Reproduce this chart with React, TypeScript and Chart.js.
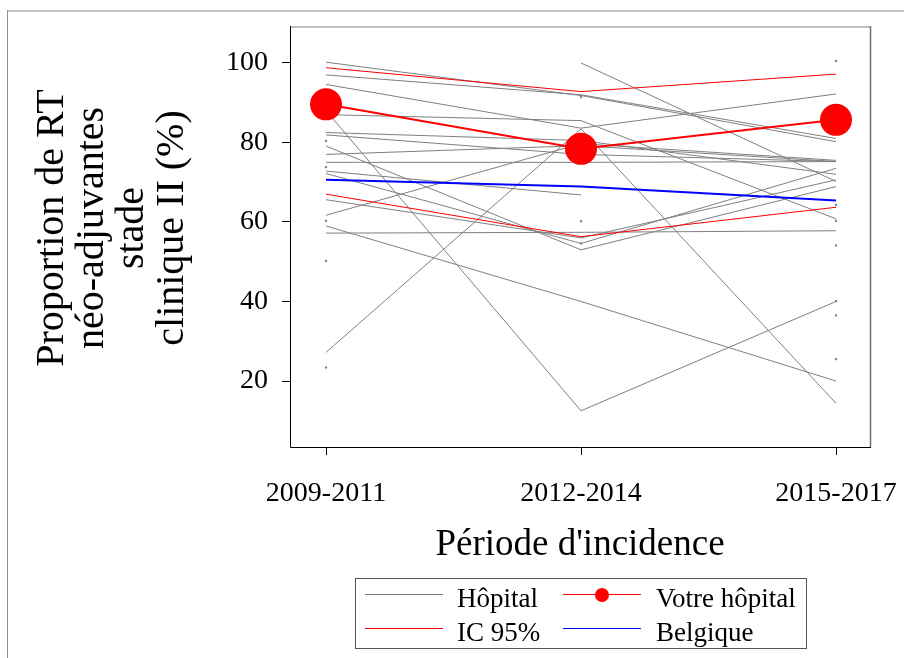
import React, { useEffect, useRef } from 'react';
import { Chart, registerables } from 'chart.js';

Chart.register(...registerables);

// ---------- data ----------
const periods = ['2009-2011', '2012-2014', '2015-2017'];
const yTicks = [20, 40, 60, 80, 100];

const votreHopital = [89.6, 78.4, 85.7];
const icHaut = [98.8, 92.8, 97.2];
const icBas = [67.0, 56.3, 63.7];
const belgique = [70.6, 68.9, 65.4];

const hopitaux: (number | null)[][] = [
  [27.2, 83.4, 14.4],
  [88.0, 12.5, 40.0],
  [59.0, 40.0, 20.0],
  [null, 100.0, 70.2],
  [57.2, 57.4, 57.8],
  [75.0, 75.0, 75.2],
  [72.8, 66.8, null],
  [100.2, 91.8, 80.2],
  [97.0, 92.0, 81.0],
  [94.6, 83.6, 92.2],
  [82.5, 80.5, 72.0],
  [81.9, 77.0, 75.2],
  [77.0, 79.2, 75.2],
  [61.7, 79.7, 75.5],
  [79.1, 53.0, 68.9],
  [72.2, 54.6, 73.5],
  [65.6, 56.0, 70.6],
  [87.0, 85.5, 60.8],
  [80.4, null, 100.5],
  [73.8, null, 64.3],
  [60.3, null, 54.1],
  [50.2, null, 36.5],
  [23.4, null, 25.5],
  [null, 91.4, null],
  [null, 60.2, null],
  [null, 54.6, null],
  [null, null, 60.3],
  [null, null, 40.1],
];

const xTitle = "Période d'incidence";
const yTitle = ['Proportion de RT', 'néo-adjuvantes', 'stade', 'clinique II (%)'];
const legendLabels = ['Hôpital', 'Votre hôpital', 'IC 95%', 'Belgique'];

// ---------- styles ----------
const FONT = '"Liberation Serif", "Times New Roman", Times, serif';
const GREY = '#808080';
const RED = '#ff0000';
const BLUE = '#0000ff';

const framePlugin = {
  id: 'frame',
  beforeDraw(chart: any) {
    const c = chart.ctx;
    c.save();
    c.fillStyle = '#fff';
    c.fillRect(0, 0, chart.width, chart.height);
    // outer frame
    c.strokeStyle = '#c8c8c8';
    c.lineWidth = 2;
    c.beginPath();
    c.moveTo(7, 11);
    c.lineTo(chart.width, 11);
    c.stroke();
    c.strokeStyle = '#909090';
    c.lineWidth = 1;
    c.beginPath();
    c.moveTo(7.5, 10);
    c.lineTo(7.5, chart.height);
    c.stroke();
    c.restore();
  },
  afterDraw(chart: any) {
    const c = chart.ctx;
    const a = chart.chartArea;
    c.save();
    c.lineWidth = 2;
    c.strokeStyle = '#c0c0c0';
    c.beginPath();
    c.moveTo(a.left, a.top + 1);
    c.lineTo(a.right, a.top + 1);
    c.stroke();
    c.lineWidth = 1.5;
    c.strokeStyle = '#707070';
    c.beginPath();
    c.moveTo(a.right + 0.5, a.top);
    c.lineTo(a.right + 0.5, a.bottom);
    c.stroke();
    c.lineWidth = 1;
    c.strokeStyle = '#000';
    c.beginPath();
    c.moveTo(a.left + 0.5, a.top);
    c.lineTo(a.left + 0.5, a.bottom + 0.5);
    c.lineTo(a.right + 1, a.bottom + 0.5);
    c.stroke();

    // y-axis title (multi-line, rotated)
    c.fillStyle = '#000';
    c.font = `40px ${FONT}`;
    c.textAlign = 'center';
    c.textBaseline = 'middle';
    const centerY = 228;
    yTitle.forEach((line, i) => {
      c.save();
      c.translate(52 + i * 40, centerY);
      c.rotate(-Math.PI / 2);
      c.fillText(line, 0, 0);
      c.restore();
    });
    c.restore();
  },
};

const legendPlugin = {
  id: 'boxLegend',
  afterDraw(chart: any) {
    const c = chart.ctx;
    c.save();
    c.strokeStyle = '#555';
    c.lineWidth = 1;
    c.strokeRect(355.5, 578.5, 451, 70);
    const colors = [GREY, RED, RED, BLUE];
    const rows = [594.5, 628.5];
    const lineX = [365, 563];
    const textX = [457, 656];
    c.font = `27px ${FONT}`;
    c.textBaseline = 'alphabetic';
    c.textAlign = 'left';
    legendLabels.forEach((lab, i) => {
      const col = i % 2;
      const row = Math.floor(i / 2);
      const y = rows[row];
      c.strokeStyle = colors[i];
      c.lineWidth = 1;
      c.beginPath();
      c.moveTo(lineX[col], y);
      c.lineTo(lineX[col] + 78, y);
      c.stroke();
      if (i === 1) {
        c.fillStyle = RED;
        c.beginPath();
        c.arc(lineX[col] + 39, y + 0.5, 7, 0, Math.PI * 2);
        c.fill();
      }
      c.fillStyle = '#000';
      c.fillText(lab, textX[col], y + 12.3);
    });
    c.restore();
  },
};

function toPts(arr: (number | null)[]) {
  return arr.map((v, i) => ({ x: i, y: v }));
}

export default function App() {
  const ref = useRef<HTMLCanvasElement>(null);

  useEffect(() => {
    const canvas = ref.current;
    if (!canvas) return;

    const hospSets = hopitaux.map((row) => ({
      label: 'Hôpital',
      data: toPts(row),
      borderColor: GREY,
      backgroundColor: GREY,
      borderWidth: 1,
      pointStyle: 'rect',
      pointRadius: (ctx: any) => {
        const i = ctx.dataIndex;
        const prev = i > 0 ? row[i - 1] : null;
        const next = i < row.length - 1 ? row[i + 1] : null;
        return row[i] != null && prev == null && next == null ? 1.5 : 0;
      },
      pointBorderWidth: 0,
      pointBackgroundColor: GREY,
      spanGaps: false,
      order: 4,
    }));

    const chart = new Chart(canvas, {
      type: 'line',
      data: {
        datasets: [
          ...hospSets,
          {
            label: 'IC 95% haut',
            data: toPts(icHaut),
            borderColor: RED,
            borderWidth: 1,
            pointRadius: 0,
            order: 3,
          },
          {
            label: 'IC 95% bas',
            data: toPts(icBas),
            borderColor: RED,
            borderWidth: 1,
            pointRadius: 0,
            order: 3,
          },
          {
            label: 'Belgique',
            data: toPts(belgique),
            borderColor: BLUE,
            borderWidth: 2,
            pointRadius: 0,
            order: 2,
          },
          {
            label: 'Votre hôpital',
            data: toPts(votreHopital),
            borderColor: RED,
            borderWidth: 2,
            pointRadius: 16,
            pointBackgroundColor: RED,
            pointBorderWidth: 0,
            order: 1,
          },
        ] as any,
      },
      options: {
        responsive: false,
        animation: false,
        events: [],
        layout: { padding: { left: 7, top: 26, right: 34, bottom: 0 } },
        plugins: {
          legend: { display: false },
          tooltip: { enabled: false },
        },
        scales: {
          x: {
            type: 'linear',
            min: -0.1412,
            max: 2.1333,
            afterBuildTicks: (s: any) => {
              s.ticks = periods.map((_, i) => ({ value: i }));
            },
            afterFit: (s: any) => {
              s.height = 211;
              s.paddingLeft = 0;
              s.paddingRight = 0;
            },
            ticks: {
              callback: (v: any) => periods[v as number],
              font: { family: FONT, size: 28 },
              color: '#000',
              padding: 22,
              maxRotation: 0,
              autoSkip: false,
            },
            grid: { drawOnChartArea: false, drawTicks: true, tickLength: 8, color: '#000' },
            border: { display: false },
            title: {
              display: true,
              text: xTitle,
              color: '#000',
              font: { family: FONT, size: 37 },
              padding: { top: 0, bottom: 91 },
            },
          },
          y: {
            min: 3.4,
            max: 109.3,
            afterBuildTicks: (s: any) => {
              s.ticks = yTicks.map((v) => ({ value: v }));
            },
            afterFit: (s: any) => {
              s.width = 283;
              s.paddingTop = 0;
              s.paddingBottom = 0;
            },
            ticks: {
              font: { family: FONT, size: 28 },
              color: '#000',
              padding: 14,
            },
            grid: { drawOnChartArea: false, drawTicks: true, tickLength: 8, color: '#000' },
            border: { display: false },
            title: { display: false },
          },
        },
      } as any,
      plugins: [framePlugin, legendPlugin],
    });

    return () => chart.destroy();
  }, []);

  return (
    <div style={{ position: 'absolute', left: 0, top: 0, width: 904, height: 658, background: '#fff' }}>
      <canvas ref={ref} width={904} height={658} style={{ display: 'block' }} />
    </div>
  );
}
